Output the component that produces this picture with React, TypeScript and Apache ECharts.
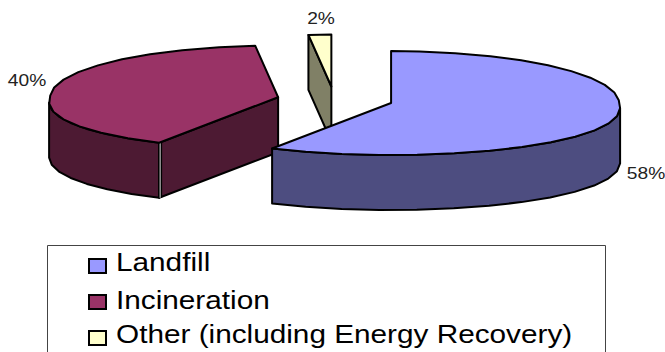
import React, { useEffect, useRef } from "react";
import * as echarts from "echarts";

const categories = ["Landfill", "Incineration", "Other (including Energy Recovery)"];
const shares = [58, 40, 2];
const percentLabels = ["58%", "40%", "2%"];

const topColors = ["#9999ff", "#993366", "#ffffcc"];
const sideColors = ["#4d4d80", "#4d1a33", "#808066"];

// Projection of the exploded disc
const centre = [335, 99.7];
const radiusX = 228;
const radiusY = 52;
const explode = 0.254;
const depth = 55;
const nearStretch = 0.095;
const farPinch = 0.25;
const rimStep = 9;
const wallFrom = 96;
const wallTo = 264;

const labelPositions = [
  [646, 174],
  [27, 81],
  [321, 19],
];
const legendTextRows = [262, 300, 334];
const legendMarkerTops = [259, 295, 331];

const rad = (deg: number) => (deg * Math.PI) / 180;

function rimPoint(apex: number[], deg: number): number[] {
  const t = rad(deg);
  const c = Math.cos(t);
  // Near side of the disc spreads outward, the far point narrows
  const spread = c < 0 ? 1 - nearStretch * c : 1 - farPinch * Math.pow(c, 30);
  return [apex[0] + radiusX * Math.sin(t) * spread, apex[1] - radiusY * c];
}

function sliceAngles(index: number) {
  const total = shares.reduce((a, b) => a + b, 0);
  let start = 0;
  for (let i = 0; i < index; i++) start += (shares[i] / total) * 360;
  return [start, start + (shares[index] / total) * 360];
}

function arcPoints(apex: number[], from: number, to: number): number[][] {
  const pts: number[][] = [];
  const n = Math.max(1, Math.ceil((to - from) / rimStep));
  for (let i = 0; i <= n; i++) pts.push(rimPoint(apex, from + ((to - from) * i) / n));
  return pts;
}

const drop = (p: number[]) => [p[0], p[1] + depth];
const edge = { stroke: "#000", lineWidth: 2, lineJoin: "round" as const };

function renderSlice(_params: any, api: any) {
  const index = api.value(0);
  const [a0, a1] = sliceAngles(index);
  const mid = rad((a0 + a1) / 2);
  const apex = [
    centre[0] + explode * radiusX * Math.sin(mid),
    centre[1] - explode * radiusY * Math.cos(mid),
  ];
  const top = arcPoints(apex, a0, a1);
  const first = top[0];
  const side = { fill: sideColors[index], ...edge };
  const z2 = [3, 2, 1][index];
  const children: any[] = [];
  const poly = (points: number[][], style: any) =>
    children.push({ type: "polygon", z2, shape: { points }, style });

  // Radial wall that faces the viewer
  if (index > 0) poly([apex, first, drop(first), drop(apex)], side);

  // Outer wall: only the front of the rim shows
  const vis0 = Math.max(a0, wallFrom);
  const vis1 = Math.min(a1, wallTo);
  if (vis1 > vis0) {
    const wall = arcPoints(apex, vis0, vis1);
    poly([...wall, ...wall.slice().reverse().map(drop)], side);
  }

  // Light seam where the two walls of the left slice meet
  if (index === 1) {
    const seam = { x1: first[0] + 1, y1: first[1], x2: first[0] + 1, y2: first[1] + depth };
    children.push({ type: "line", z2, shape: seam, style: { stroke: "#000", lineWidth: 4 } });
    children.push({ type: "line", z2, shape: seam, style: { stroke: "#ddd", lineWidth: 1 } });
  }

  poly([apex, ...top], { fill: topColors[index], ...edge });
  return { type: "group", children };
}

export default function App() {
  const ref = useRef<HTMLDivElement>(null);
  useEffect(() => {
    const chart = echarts.init(ref.current!, null, { renderer: "svg" });
    const font = "'Liberation Sans', Arial, sans-serif";
    chart.setOption({
      animation: false,
      backgroundColor: "#fff",
      series: [
        {
          type: "custom",
          coordinateSystem: "none",
          data: shares.map((v, i) => [i, v]).reverse(),
          renderItem: renderSlice,
          silent: true,
        },
      ],
      graphic: [
        {
          type: "rect",
          shape: { x: 47.5, y: 245.5, width: 558, height: 125 },
          style: { fill: "#fff", stroke: "#444", lineWidth: 1 },
        },
        ...categories.flatMap((name, i) => [
          {
            type: "rect",
            shape: { x: 89, y: legendMarkerTops[i], width: 17, height: 14 },
            style: { fill: topColors[i], stroke: "#000", lineWidth: 2 },
          },
          {
            type: "text",
            x: 116,
            y: legendTextRows[i],
            scaleX: 1.19,
            style: {
              text: name,
              font: `25px ${font}`,
              fill: "#000",
              textVerticalAlign: "middle",
            },
          },
        ]),
        ...percentLabels.map((text, i) => ({
          type: "text",
          x: labelPositions[i][0],
          y: labelPositions[i][1],
          scaleX: 1.2,
          style: {
            text,
            font: `16px ${font}`,
            fill: "#222",
            textAlign: "center",
            textVerticalAlign: "middle",
          },
        })),
      ],
    });
    return () => chart.dispose();
  }, []);
  return <div ref={ref} style={{ position: "fixed", left: 0, top: 0, width: 665, height: 352 }} />;
}
